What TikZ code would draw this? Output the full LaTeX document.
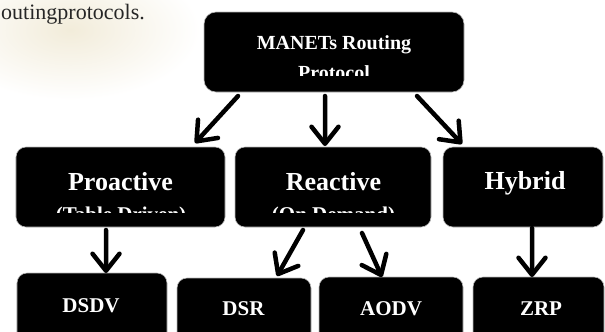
\documentclass[tikz,border=0pt]{standalone}
\usepackage{fontspec}
\setmainfont{Liberation Serif}
\usetikzlibrary{arrows.meta,calc}
\begin{document}
\begin{tikzpicture}[x=1bp,y=-1bp,
  box/.style={fill=black, draw=gray!55, line width=0.6bp, rounded corners=10bp,
              inner sep=0pt, outer sep=0pt},
  big/.style={text=white, font=\bfseries\fontsize{26bp}{30bp}\selectfont, inner sep=0pt, anchor=base},
  mid/.style={text=white, font=\bfseries\fontsize{21bp}{25bp}\selectfont, inner sep=0pt, anchor=base},
  toplbl/.style={text=white, font=\bfseries\fontsize{20bp}{24bp}\selectfont, inner sep=0pt, anchor=base},
  arr/.style={line width=4.5bp, line cap=round, line join=round,
              -{Straight Barb[length=17bp,width=27bp,round]}},
]
\useasboundingbox (0,0) rectangle (605,331);

% faint background smudge
\shade[inner color={rgb,255:red,242;green,236;blue,218}, outer color=white]
  (70,30) ellipse [x radius=130bp, y radius=70bp];

% caption text at top left
\node[anchor=base west, inner sep=0pt, text=black!85,
      font=\fontsize{22bp}{26bp}\selectfont] (cap) at (1,19) {outingprotocols.};

% boxes
\node[box, rounded corners=12bp, minimum width=260bp, minimum height=80bp] (top) at (334,52) {};
\node[box, minimum width=209bp, minimum height=80bp] (pro) at (120.5,187) {};
\node[box, minimum width=196bp, minimum height=80bp] (rea) at (333,187) {};
\node[box, minimum width=160bp, minimum height=80bp] (hyb) at (523,187) {};
\node[box, minimum width=150bp, minimum height=72bp] (dsdv) at (92,309) {};
\node[box, minimum width=134bp, minimum height=67bp] (dsr) at (244,311.5) {};
\node[box, minimum width=144bp, minimum height=68bp] (aodv) at (391,311) {};
\node[box, minimum width=131bp, minimum height=68bp] (zrp) at (538.5,311) {};

% labels (second lines clipped by the box text area)
\begin{scope}
  \clip (204,12) rectangle (464,75.5);
  \node[toplbl] (t1) at (334,49) {MANETs Routing};
  \node[toplbl] (t2) at (334,79) {Protocol};
\end{scope}
\node[big] (pl) at (120.5,190) {Proactive};
\node[big] (rl) at (333.5,190) {Reactive};
\node[big] (hl) at (525,189) {Hybrid};
\begin{scope}
  \clip (16,150) rectangle (431,212);
  \node[mid] (pl2) at (121,221) {(Table Driven)};
  \node[mid] (rl2) at (333.5,221) {(On Demand)};
\end{scope}
\node[mid] (dl) at (91,312) {DSDV};
\node[mid] (sl) at (243.5,315) {DSR};
\node[mid] (al) at (391,315) {AODV};
\node[mid] (zl) at (541,315) {ZRP};

% arrows
\draw[arr] ($(top.south west)+(34,4)$) -- ($(pro.north west)+(179,-4)$);
\draw[arr] ($(top.south west)+(121,4)$) -- ($(rea.north west)+(90,-1)$);
\draw[arr] ($(top.south west)+(213,4)$) -- ($(hyb.north west)+(19,-3)$);
\draw[arr] ($(pro.south west)+(90,3)$) -- ($(dsdv.north west)+(89,0)$);
\draw[arr] ($(rea.south west)+(68,3)$) -- ($(dsr.north west)+(100,-2)$);
\draw[arr] ($(rea.south west)+(127,6)$) -- ($(aodv.north west)+(63,0)$);
\draw[arr] ($(hyb.south west)+(89,1)$) -- ($(zrp.north west)+(59,0)$);
\end{tikzpicture}
\end{document}
